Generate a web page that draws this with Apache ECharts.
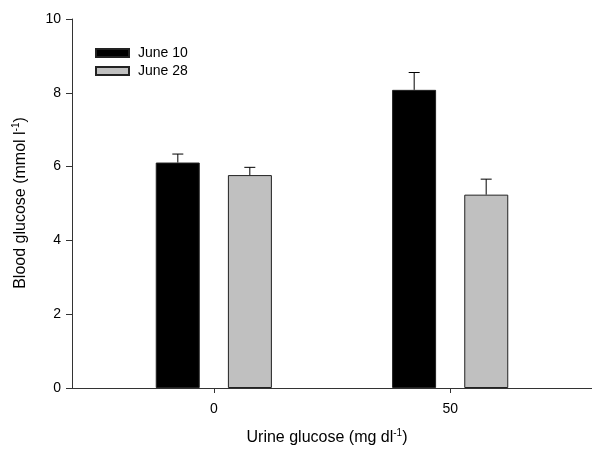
<!DOCTYPE html>
<html>
<head>
<meta charset="utf-8">
<script src="https://cdn.jsdelivr.net/npm/echarts@6/dist/echarts.min.js"></script>
<style>html,body{margin:0;padding:0;background:#fff}#c{width:592px;height:451px}</style>
</head>
<body>
<div id="c"></div>
<script>
var urineGlucose = [0, 50];
var seriesNames = ['June 10', 'June 28'];
var june10 = [6.11, 8.08];
var june10Err = [0.23, 0.47];
var june28 = [5.77, 5.24];
var june28Err = [0.21, 0.42];
var yTicks = [0, 2, 4, 6, 8, 10];
var xTicks = [0, 50];

var chart = echarts.init(document.getElementById('c'), null, {renderer: 'canvas'});
var FONT = 'Liberation Sans, Arial, sans-serif';
var axisColor = '#333';

function pairs(xs, ys) { return xs.map(function (x, i) { return [x, ys[i]]; }); }
function errData(xs, ys, es) { return xs.map(function (x, i) { return [x, ys[i], ys[i] + es[i]]; }); }

function errRender(offset) {
  return function (params, api) {
    var base = api.coord([api.value(0), api.value(1)]);
    var top = api.coord([api.value(0), api.value(2)]);
    var x = base[0] + offset;
    return {
      type: 'group',
      children: [
        {type: 'line', shape: {x1: x, y1: base[1], x2: x, y2: top[1]}, style: {stroke: '#000', lineWidth: 1}},
        {type: 'line', shape: {x1: x - 5.5, y1: top[1], x2: x + 5.5, y2: top[1]}, style: {stroke: '#000', lineWidth: 1}}
      ]
    };
  };
}

chart.setOption({
  animation: false,
  backgroundColor: '#fff',
  grid: {left: 72, right: -6, top: 19, bottom: 63, containLabel: false},
  legend: {
    orient: 'vertical', left: 95, top: 46, padding: 0, itemWidth: 33, itemHeight: 8, itemGap: 4,
    icon: 'rect',
    data: seriesNames,
    textStyle: {fontFamily: FONT, fontSize: 14, color: '#000', padding: [0, 0, 0, 4]}
  },
  xAxis: {
    type: 'value', min: -30, max: 80,
    splitLine: {show: false},
    axisLine: {show: true, onZero: false, lineStyle: {color: axisColor, width: 1}},
    axisTick: {show: true, length: 5, customValues: xTicks, lineStyle: {color: axisColor}},
    axisLabel: {customValues: xTicks, margin: 14, fontFamily: FONT, fontSize: 14, color: '#000'}
  },
  yAxis: {
    type: 'value', min: 0, max: 10, interval: 2,
    splitLine: {show: false},
    axisLine: {show: true, onZero: false, lineStyle: {color: axisColor, width: 1}},
    axisTick: {show: true, length: 6, customValues: yTicks, lineStyle: {color: axisColor}},
    axisLabel: {customValues: yTicks, margin: 11, fontFamily: FONT, fontSize: 14, color: '#000'}
  },
  graphic: [
    {
      type: 'text', x: 327, y: 438,
      style: {
        text: '{n|Urine glucose (mg dl}{s|-1}{n|)}',
        align: 'center', verticalAlign: 'middle',
        rich: {n: {fontFamily: FONT, fontSize: 16, color: '#000'}, s: {fontFamily: FONT, fontSize: 10, color: '#000', padding: [0, 0, 9, 0]}}
      }
    },
    {
      type: 'text', x: 21, y: 203, rotation: Math.PI / 2,
      style: {
        text: '{n|Blood glucose (mmol l}{s|-1}{n|)}',
        align: 'center', verticalAlign: 'middle',
        rich: {n: {fontFamily: FONT, fontSize: 16, color: '#000'}, s: {fontFamily: FONT, fontSize: 10, color: '#000', padding: [0, 0, 9, 0]}}
      }
    }
  ],
  series: [
    {
      name: seriesNames[0], type: 'bar', data: pairs(urineGlucose, june10),
      barWidth: 44, barGap: '64%',
      itemStyle: {color: '#000', borderColor: '#222', borderWidth: 1}
    },
    {
      name: seriesNames[1], type: 'bar', data: pairs(urineGlucose, june28),
      barWidth: 44, barGap: '64%',
      itemStyle: {color: '#c0c0c0', borderColor: '#222', borderWidth: 1}
    },
    {
      type: 'custom', renderItem: errRender(-36), data: errData(urineGlucose, june10, june10Err),
      z: 3, silent: true, encode: {x: 0, y: [1, 2]}
    },
    {
      type: 'custom', renderItem: errRender(36), data: errData(urineGlucose, june28, june28Err),
      z: 3, silent: true, encode: {x: 0, y: [1, 2]}
    }
  ]
});
</script>
</body>
</html>
